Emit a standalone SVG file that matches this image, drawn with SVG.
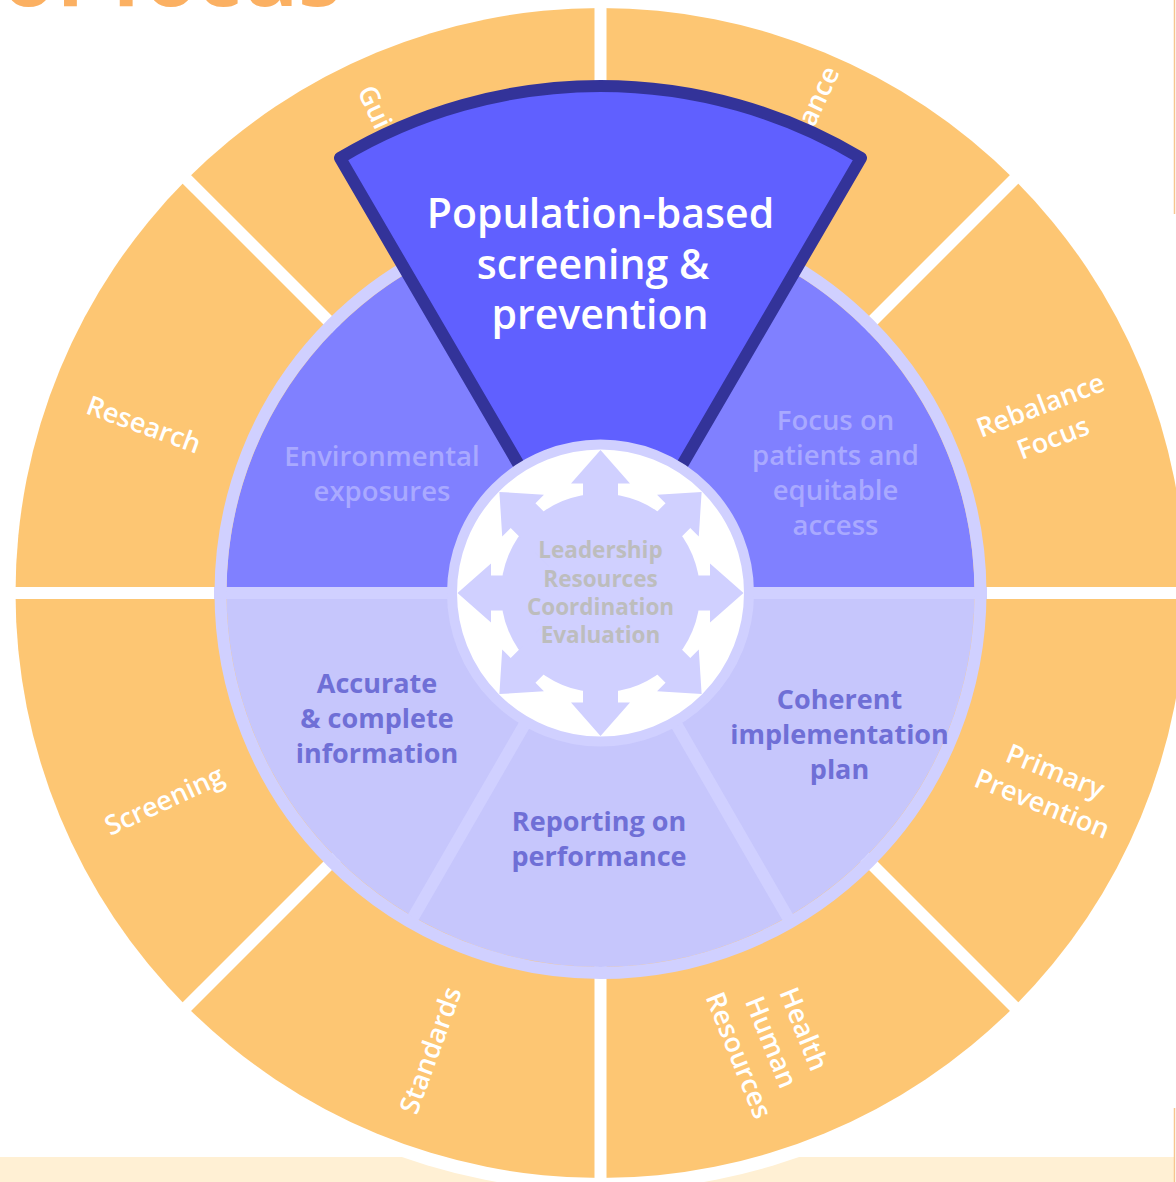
<svg xmlns="http://www.w3.org/2000/svg" xmlns:xlink="http://www.w3.org/1999/xlink" width="1176" height="1182" viewBox="0 0 1176 1182">
<style>
.ring{font-family:"Open Sans","Liberation Sans",sans-serif;font-weight:600;font-size:27px;fill:#ffffff;text-anchor:middle}
.up{font-family:"Open Sans","Liberation Sans",sans-serif;font-weight:600;font-size:27.5px;fill:#A9A9FF;text-anchor:middle}
.low{font-family:"Open Sans","Liberation Sans",sans-serif;font-weight:700;font-size:27px;fill:#6F6FD6;text-anchor:middle}
.ctr{font-family:"Open Sans","Liberation Sans",sans-serif;font-weight:700;font-size:22.5px;fill:#BDBDBD;text-anchor:middle}
.ttl{font-family:"Open Sans","Liberation Sans",sans-serif;font-weight:600;font-size:41px;fill:#ffffff;text-anchor:middle}
.gap{stroke:#ffffff;stroke-width:12}
.div{stroke:#D0D0FF;stroke-width:12}
</style>
<defs>
<polygon id="arr" points="-17.5,0 -17.5,-109.5 -29.5,-109.5 0,-143 29.5,-109.5 17.5,-109.5 17.5,0"/>
</defs>
<rect width="1176" height="1182" fill="#ffffff"/>
<text x="2" y="6" style="font-family:'Open Sans','Liberation Sans',sans-serif;font-weight:700;font-size:86px;fill:#FBB062">of focus</text>
<rect x="0" y="1157" width="1174" height="25" fill="#FFF0D4"/>
<line x1="1174.5" y1="0" x2="1174.5" y2="214" stroke="#F6C690" stroke-width="1.5"/>
<line x1="1174.5" y1="1108" x2="1174.5" y2="1182" stroke="#F6C690" stroke-width="1.5"/>
<circle cx="600.5" cy="593" r="598" fill="#ffffff"/>

<g id="outer-ring">
<circle cx="600.5" cy="593" r="585" fill="#FDC673"/>
<g id="ring-gaps">
<line class="gap" x1="0" y1="593" x2="1201" y2="593"/>
<line class="gap" x1="600.5" y1="0" x2="600.5" y2="1193"/>
<line class="gap" x1="176.2" y1="168.7" x2="1024.8" y2="1017.3"/>
<line class="gap" x1="1024.8" y1="168.7" x2="176.2" y2="1017.3"/>
</g>
</g>

<g id="ring-labels">
<text class="ring" x="357" y="91" transform="rotate(65 357 91)" style="text-anchor:start">Gui</text>
<text class="ring" x="840" y="72" transform="rotate(-65 840 72)" style="text-anchor:end">ance</text>
<g id="research" transform="translate(144,424) rotate(20)"><text class="ring" x="0" y="10">Research</text></g>
<g id="screening" transform="translate(164,800) rotate(-25)"><text class="ring" x="0" y="10">Screening</text></g>
<g id="rebalance" transform="translate(1046.5,421) rotate(-21)"><text class="ring" x="0" y="-7.5">Rebalance</text><text class="ring" x="0" y="27.5">Focus</text></g>
<g id="primary" transform="translate(1049,787) rotate(22)"><text class="ring" x="0" y="-7.5">Primary</text><text class="ring" x="0" y="27.5">Prevention</text></g>
<g id="standards" transform="translate(430,1050) rotate(-70)"><text class="ring" x="0" y="10">Standards</text></g>
<g id="hhr" transform="translate(772,1042) rotate(68)"><text class="ring" x="0" y="-25">Health</text><text class="ring" x="0" y="10">Human</text><text class="ring" x="0" y="45">Resources</text></g>
</g>

<g id="inner-disk">
<path d="M226.5,593 A374 374 0 0 1 974.5,593 Z" fill="#8080FF"/>
<path d="M226.5,593 A374 374 0 0 0 974.5,593 Z" fill="#C6C6FC"/>
<line class="div" x1="214" y1="593" x2="987" y2="593"/>
<line class="div" x1="600.5" y1="593" x2="410.5" y2="922.1"/>
<line class="div" x1="600.5" y1="593" x2="790.5" y2="922.1"/>
<circle cx="600.5" cy="593" r="380" fill="none" stroke="#D0D0FF" stroke-width="12"/>
</g>

<g id="environmental"><text class="up" x="382" y="466">Environmental</text><text class="up" x="382" y="501">exposures</text></g>
<g id="focus"><text class="up" x="835.5" y="430">Focus on</text><text class="up" x="835.5" y="465">patients and</text><text class="up" x="835.5" y="500">equitable</text><text class="up" x="835.5" y="535">access</text></g>
<g id="accurate"><text class="low" x="377" y="693">Accurate</text><text class="low" x="377" y="728">&amp; complete</text><text class="low" x="377" y="763">information</text></g>
<g id="coherent"><text class="low" x="839.5" y="709">Coherent</text><text class="low" x="839.5" y="744">implementation</text><text class="low" x="839.5" y="779">plan</text></g>
<g id="reporting"><text class="low" x="599" y="831">Reporting on</text><text class="low" x="599" y="866">performance</text></g>

<g id="population">
<path d="M600.5,605 L340,158 A507 507 0 0 1 861,158 Z" fill="#6060FF" stroke="#333399" stroke-width="12" stroke-linejoin="round"/>
<text class="ttl" x="600.5" y="228">Population-based</text>
<text class="ttl" x="593" y="278.5">screening &amp;</text>
<text class="ttl" x="600" y="329">prevention</text>
</g>

<g id="center">
<circle cx="600.5" cy="593" r="148.5" fill="#ffffff" stroke="#D0D0FF" stroke-width="10"/>
<g fill="#D0D0FF" transform="translate(600.5,593)">
<circle r="99.5"/>
<use xlink:href="#arr"/>
<use xlink:href="#arr" transform="rotate(45)"/>
<use xlink:href="#arr" transform="rotate(90)"/>
<use xlink:href="#arr" transform="rotate(135)"/>
<use xlink:href="#arr" transform="rotate(180)"/>
<use xlink:href="#arr" transform="rotate(225)"/>
<use xlink:href="#arr" transform="rotate(270)"/>
<use xlink:href="#arr" transform="rotate(315)"/>
</g>
<text class="ctr" x="600.5" y="558">Leadership</text>
<text class="ctr" x="600.5" y="587">Resources</text>
<text class="ctr" x="600.5" y="615">Coordination</text>
<text class="ctr" x="600.5" y="643">Evaluation</text>
</g>
</svg>
